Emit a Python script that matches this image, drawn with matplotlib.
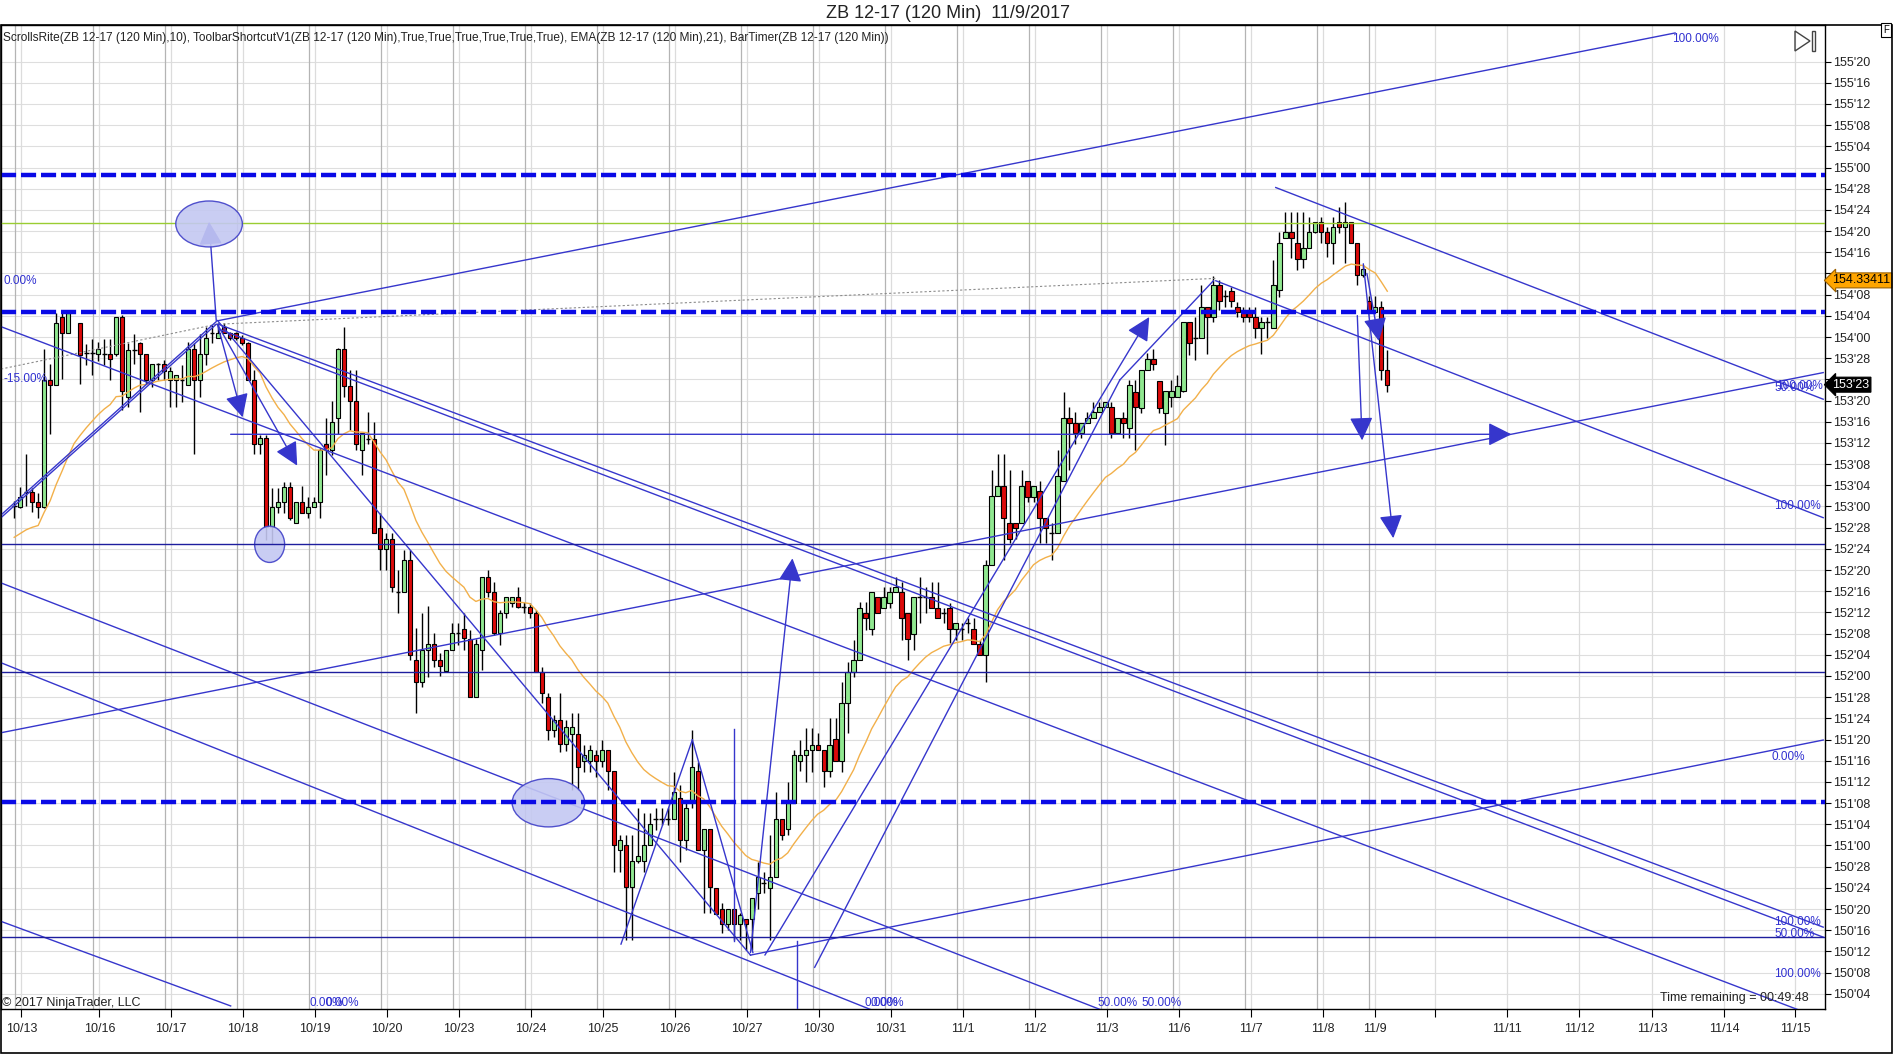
import numpy as np
import pandas as pd
import matplotlib.pyplot as plt
from matplotlib.patches import Rectangle, Ellipse, Polygon
from matplotlib.transforms import blended_transform_factory

nan = np.nan

# ZB 12-17, 120 min bars (index 0 = first bar on the chart)
opens = [
    153.000, 152.995, 153.087, 153.087, 153.024, 152.995, 153.746, 153.714, 154.120, 154.021,
    nan, 154.084, 153.903, 153.903, 153.900, 153.900, 153.900, 153.900, 154.116, 153.648,
    153.923, 153.963, 153.900, 153.746, 153.838, 153.838, 153.746, 153.746, 153.746, 153.716,
    153.927, 153.746, 153.897, 154.021, 153.992, 154.057, 154.021, 154.021, 153.992, 153.963,
    153.746, 153.368, 153.402, 152.880, 152.995, 153.024, 153.117, 152.900, 153.024, 152.963,
    152.995, 153.024, 153.368, 153.333, 153.524, 153.927, 153.713, 153.622, 153.333, 153.400,
    153.400, 152.871, 152.747, 152.806, 152.493, 152.493, 152.684, 152.094, 151.966, 152.153,
    152.187, 152.094, 152.029, 152.153, 152.251, 152.275, 152.216, 151.878, 152.153, 152.586,
    152.497, 152.251, 152.370, 152.428, 152.464, 152.409, 152.405, 152.370, 152.025, 151.874,
    151.680, 151.740, 151.600, 151.660, 151.657, 151.498, 151.498, 151.534, 151.498, 151.563,
    151.439, 150.973, 151.003, 150.757, 150.908, 150.908, 151.003, 151.154, 151.154, 151.154,
    151.154, 151.278, 151.032, 151.268, 151.439, 150.973, 151.095, 150.751, 150.623, 150.537,
    150.623, 150.537, 150.564, 150.564, 150.717, 150.780, 150.751, 150.812, 151.154, 151.095,
    151.248, 151.498, 151.534, 151.563, 151.593, 151.563, 151.439, 151.626, 151.498, 151.838,
    152.025, 152.094, 152.369, 152.275, 152.464, 152.403, 152.433, 152.494, 152.494, 152.369,
    152.246, 152.464, 152.464, 152.464, 152.403, 152.369, 152.403, 152.275, 152.275, 152.310,
    152.275, 152.187, 152.122, 152.655, 153.062, 153.121, 152.900, 152.900, 152.900, 153.152,
    153.058, 153.089, 152.930, 152.841, 152.841, 153.152, 153.524, 153.494, 153.431, 153.494,
    153.524, 153.555, 153.585, 153.585, 153.431, 153.524, 153.461, 153.677, 153.583, 153.805,
    153.870, 153.742, 153.553, 153.648, 153.648, 153.681, 154.086, 153.992, 153.992, 154.179,
    154.116, 154.307, 154.242, 154.273, 154.179, 154.149, 154.149, 154.116, 154.055, 154.086,
    154.055, 154.277, 154.582, 154.617, 154.552, 154.458, 154.523, 154.617, 154.676, 154.617,
    154.552, 154.676, 154.647, 154.676, 154.552, 154.366, 154.212, 154.149, 154.179, 153.805,
]
highs = [
    153.030, 153.117, 153.310, 153.107, 153.077, 153.927, 153.840, 154.140, 154.140, 154.160,
    nan, 154.084, 153.960, 153.990, 153.970, 153.990, 153.990, 154.116, 154.130, 153.963,
    154.020, 153.970, 153.900, 153.840, 153.845, 153.864, 153.825, 153.774, 153.835, 153.970,
    153.963, 154.020, 154.060, 154.070, 154.080, 154.080, 154.031, 154.031, 154.012, 153.972,
    153.805, 153.422, 153.422, 153.107, 153.107, 153.146, 153.146, 153.024, 153.120, 153.057,
    153.057, 153.343, 153.524, 153.624, 153.933, 154.060, 153.805, 153.805, 153.431, 153.560,
    153.500, 152.963, 152.841, 152.841, 152.625, 152.743, 152.743, 152.281, 152.370, 152.410,
    152.251, 152.133, 152.153, 152.310, 152.310, 152.370, 152.271, 152.217, 152.586, 152.625,
    152.556, 152.390, 152.464, 152.464, 152.527, 152.438, 152.428, 152.390, 152.055, 151.900,
    151.770, 151.900, 151.740, 151.780, 151.780, 151.593, 151.593, 151.563, 151.622, 151.563,
    151.439, 151.062, 151.062, 151.062, 151.219, 151.190, 151.190, 151.219, 151.219, 151.219,
    151.435, 151.356, 151.268, 151.681, 151.494, 151.095, 151.095, 150.751, 150.658, 150.623,
    150.623, 150.600, 150.564, 150.688, 150.904, 150.845, 151.062, 151.313, 151.154, 151.376,
    151.563, 151.622, 151.691, 151.691, 151.661, 151.563, 151.750, 151.750, 151.966, 152.084,
    152.212, 152.438, 152.438, 152.494, 152.464, 152.527, 152.527, 152.586, 152.556, 152.369,
    152.464, 152.586, 152.527, 152.556, 152.556, 152.403, 152.433, 152.310, 152.310, 152.340,
    152.340, 152.212, 152.684, 153.215, 153.310, 153.310, 153.215, 152.900, 153.215, 153.152,
    153.121, 153.152, 152.930, 152.900, 153.333, 153.677, 153.585, 153.555, 153.494, 153.555,
    153.618, 153.618, 153.618, 153.618, 153.524, 153.555, 153.746, 153.746, 153.805, 153.903,
    153.927, 153.742, 153.681, 153.746, 153.775, 154.086, 154.086, 154.120, 154.307, 154.179,
    154.360, 154.336, 154.277, 154.297, 154.208, 154.179, 154.179, 154.179, 154.120, 154.120,
    154.454, 154.621, 154.739, 154.739, 154.739, 154.739, 154.710, 154.676, 154.710, 154.647,
    154.710, 154.769, 154.798, 154.676, 154.552, 154.425, 154.242, 154.242, 154.212, 153.923,
]
lows = [
    152.930, 152.990, 153.000, 152.970, 152.930, 152.990, 153.430, 153.714, 153.750, 154.021,
    nan, 153.720, 153.835, 153.776, 153.860, 153.835, 153.746, 153.890, 153.570, 153.589,
    153.840, 153.560, 153.720, 153.706, 153.746, 153.746, 153.589, 153.589, 153.618, 153.716,
    153.310, 153.648, 153.835, 153.963, 153.992, 154.021, 153.982, 153.982, 153.952, 153.746,
    153.310, 153.310, 152.800, 152.780, 152.960, 152.960, 152.920, 152.900, 152.963, 152.930,
    152.995, 152.930, 153.186, 153.303, 153.430, 153.648, 153.450, 153.333, 153.186, 153.370,
    152.841, 152.625, 152.625, 152.497, 152.370, 152.493, 152.094, 151.780, 151.937, 151.996,
    152.055, 152.000, 152.029, 152.153, 152.183, 152.153, 151.878, 151.878, 152.035, 152.468,
    152.241, 152.183, 152.340, 152.409, 152.400, 152.370, 152.340, 152.025, 151.838, 151.620,
    151.640, 151.550, 151.560, 151.330, 151.327, 151.435, 151.435, 151.406, 151.465, 151.327,
    150.845, 150.845, 150.442, 150.442, 150.894, 150.845, 151.003, 151.091, 151.120, 151.120,
    151.154, 150.904, 150.973, 151.219, 150.973, 150.600, 150.600, 150.596, 150.482, 150.501,
    150.442, 150.442, 150.383, 150.383, 150.623, 150.717, 150.442, 150.812, 151.032, 151.062,
    151.248, 151.439, 151.376, 151.435, 151.563, 151.347, 151.406, 151.498, 151.435, 151.661,
    151.996, 152.094, 152.271, 152.242, 152.369, 152.403, 152.403, 152.494, 152.212, 152.094,
    152.153, 152.310, 152.369, 152.403, 152.340, 152.310, 152.193, 152.212, 152.212, 152.251,
    152.187, 152.122, 151.966, 152.655, 153.062, 152.684, 152.782, 152.806, 152.900, 153.029,
    153.029, 152.782, 152.782, 152.684, 152.841, 153.152, 153.215, 153.369, 153.402, 153.494,
    153.524, 153.555, 153.585, 153.402, 153.431, 153.402, 153.402, 153.333, 153.553, 153.805,
    153.805, 153.553, 153.363, 153.589, 153.648, 153.677, 153.894, 153.864, 153.992, 153.898,
    154.090, 154.159, 154.179, 154.179, 154.119, 154.090, 154.090, 153.992, 153.898, 153.992,
    154.055, 154.238, 154.582, 154.464, 154.395, 154.405, 154.523, 154.611, 154.552, 154.474,
    154.430, 154.611, 154.434, 154.552, 154.307, 154.356, 154.149, 154.149, 153.746, 153.677,
]
closes = [
    153.000, 153.058, 153.087, 153.024, 152.995, 153.746, 153.714, 154.084, 154.021, 154.143,
    nan, 153.894, 153.903, 153.903, 153.927, 153.900, 153.868, 154.116, 153.683, 153.923,
    153.923, 153.900, 153.746, 153.840, 153.838, 153.800, 153.800, 153.774, 153.746, 153.927,
    153.746, 153.897, 153.992, 154.021, 154.021, 154.021, 153.992, 153.992, 153.963, 153.746,
    153.368, 153.402, 152.880, 152.995, 153.024, 153.117, 152.930, 153.024, 152.963, 152.995,
    153.024, 153.333, 153.333, 153.498, 153.927, 153.713, 153.622, 153.366, 153.431, 153.400,
    152.841, 152.747, 152.806, 152.527, 152.493, 152.684, 152.124, 151.966, 152.153, 152.187,
    152.094, 152.059, 152.153, 152.251, 152.251, 152.222, 151.878, 152.187, 152.586, 152.497,
    152.251, 152.370, 152.464, 152.464, 152.409, 152.409, 152.370, 152.025, 151.900, 151.680,
    151.740, 151.600, 151.700, 151.700, 151.465, 151.534, 151.563, 151.498, 151.563, 151.439,
    151.003, 151.032, 150.757, 150.908, 150.938, 151.003, 151.125, 151.154, 151.154, 151.154,
    151.313, 151.032, 151.219, 151.465, 150.973, 151.095, 150.757, 150.596, 150.537, 150.623,
    150.537, 150.590, 150.537, 150.688, 150.812, 150.780, 150.812, 151.154, 151.062, 151.248,
    151.534, 151.534, 151.563, 151.593, 151.563, 151.439, 151.593, 151.498, 151.838, 152.025,
    152.094, 152.403, 152.340, 152.494, 152.369, 152.464, 152.494, 152.527, 152.340, 152.216,
    152.464, 152.464, 152.464, 152.403, 152.340, 152.369, 152.275, 152.310, 152.275, 152.310,
    152.187, 152.122, 152.655, 153.062, 153.121, 152.930, 152.806, 152.871, 153.121, 153.058,
    153.121, 152.930, 152.871, 152.841, 153.182, 153.524, 153.494, 153.431, 153.494, 153.524,
    153.555, 153.585, 153.618, 153.431, 153.524, 153.494, 153.717, 153.585, 153.805, 153.870,
    153.838, 153.583, 153.681, 153.681, 153.713, 154.086, 153.962, 153.992, 154.179, 154.116,
    154.307, 154.212, 154.242, 154.212, 154.149, 154.116, 154.116, 154.055, 154.086, 154.086,
    154.307, 154.552, 154.617, 154.582, 154.458, 154.523, 154.617, 154.676, 154.617, 154.552,
    154.647, 154.647, 154.676, 154.552, 154.366, 154.399, 154.149, 154.179, 153.805, 153.719,
]
ema_seed = 152.80          # EMA value just before the first bar
ema_period = 21

# x axis: tick positions in bar index and their labels
date_ticks = [1.2, 14.2, 26.2, 38.2, 50.2, 62.2, 74.2, 86.2, 98.2, 110.2, 122.2, 134.2,
              146.2, 158.2, 170.2, 182.2, 194.2, 206.2, 218.2, 227.0]
date_labels = ['10/13', '10/16', '10/17', '10/18', '10/19', '10/20', '10/23', '10/24', '10/25',
               '10/26', '10/27', '10/30', '10/31', '11/1', '11/2', '11/3', '11/6', '11/7',
               '11/8', '11/9']
future_ticks = [237.0, 249.0, 261.0, 273.2, 285.2, 297.0]
future_labels = ['', '11/11', '11/12', '11/13', '11/14', '11/15']

# drawing objects (bar index, price)
dash_levels = [154.953, 154.147, 151.258]
solid_levels = [152.777, 152.021, 150.459]
green_level = 154.675
trend_lines = [
    ((34.1, 154.097), (277.0, 155.794)),
    ((-2.2, 152.934), (33.7, 154.075)),
    ((-2.2, 152.950), (33.7, 154.091)),
    ((-2.2, 151.665), (301.7, 153.790)),
    ((122.8, 150.353), (301.7, 151.622)),
    ((-2.2, 154.061), (297.5, 150.031)),
    ((34.1, 154.075), (301.7, 150.518)),
    ((34.1, 154.047), (301.7, 150.459)),
    ((33.9, 154.097), (122.8, 150.353)),
    ((210.4, 154.882), (301.7, 153.633)),
    ((200.4, 154.332), (301.7, 152.934)),
    ((-2.2, 150.552), (36.1, 150.053)),
    ((-2.2, 152.549), (181.2, 150.031)),
    ((-2.2, 152.078), (142.9, 150.031)),
    ((101.2, 150.418), (113.1, 151.623)),
    ((113.1, 151.623), (123.2, 150.368)),
    ((120.0, 151.686), (120.0, 150.438)),
    ((130.6, 150.438), (130.6, 150.031)),
    ((133.5, 150.281), (184.4, 153.747)),
    ((184.4, 153.747), (200.0, 154.332)),
]
arrow_lines = [
    ((33.7, 154.097), (32.5, 154.68)),
    ((33.9, 154.075), (38.1, 153.526)),
    ((33.9, 154.075), (47.2, 153.241)),
    ((36.1, 153.426), (249.7, 153.426)),
    ((122.8, 150.368), (129.8, 152.694)),
    ((125.2, 150.353), (189.3, 154.118)),
    ((224.0, 154.126), (224.8, 153.39)),
    ((225.0, 154.432), (230.0, 152.813)),
    ((225.6, 154.375), (227.6, 153.976)),
]
ellipses = [(32.5, 154.667, 11.1, 0.271), (42.6, 152.777, 5.0, 0.214), (89.1, 151.252, 12.1, 0.285)]
pct_labels = [
    ('100.00%', 276.5, 155.76), ('0.00%', -1.7, 154.33), ('-15.00%', -1.7, 153.75),
    ('50.00%', 293.5, 153.70), ('100.00%', 293.8, 153.71), ('100.00%', 293.5, 153.00),
    ('0.00%', 293.0, 151.52), ('100.00%', 293.5, 150.55), ('50.00%', 293.5, 150.48),
    ('100.00%', 293.5, 150.24), ('0.00%', 49.3, 150.07), ('0.00%', 52.0, 150.07),
    ('0.00%', 141.8, 150.07), ('0.00%', 142.8, 150.07), ('50.00%', 180.7, 150.07),
    ('50.00%', 188.0, 150.07),
]
ema_marker = 154.33411
last_price = 153.71875

plt.rcParams['font.family'] = ['Liberation Sans Narrow', 'Liberation Sans', 'DejaVu Sans']

W, H = 1896, 1055
fig = plt.figure(figsize=(W / 100, H / 100), dpi=100)


def fx(px):
    return px / W


def fy(py):
    return 1 - py / H


ax = fig.add_axes([fx(1), fy(1009), fx(1825) - fx(1), fy(25) - fy(1009)])
ax.set_xlim(-2.2, 302)
ax.set_ylim(150.035, 155.841)


def fmt32(p):
    whole = int(np.floor(p + 1e-9))
    n = int(round((p - whole) * 32))
    return f"{whole}'{n:02d}"


yt = np.arange(150.125, 155.7, 0.125)
# the tick labels that sit under the two price markers are hidden
hidden = [fmt32(round(ema_marker * 8) / 8), fmt32(round(last_price * 8) / 8)]
ax.set_yticks(yt)
ax.set_yticklabels(['' if fmt32(v) in hidden else fmt32(v) for v in yt])
ax.yaxis.tick_right()
ax.tick_params(axis='y', direction='out', length=4, width=0.8, labelsize=9, pad=2,
               labelcolor='#222222')
ax.set_xticks(date_ticks + future_ticks)
ax.set_xticklabels(date_labels + future_labels)
ax.tick_params(axis='x', direction='out', length=6, width=0.8, labelsize=9, pad=4,
               labelcolor='#222222')
for s in ax.spines.values():
    s.set_linewidth(1.0)
    s.set_color('black')

# grid
for v in yt:
    ax.axhline(v, color='#dedede', lw=0.8, zorder=0)
for t in date_ticks + future_ticks:
    ax.axvline(t, color='#dcdcdc', lw=0.9, zorder=0)
for t in date_ticks:
    ax.axvline(t - 1, color='#b4b4b4', lw=0.9, zorder=0)

# candles
up_col, dn_col = '#90e890', '#dc0a0a'
for i in range(len(closes)):
    o, h, l, c = opens[i], highs[i], lows[i], closes[i]
    if np.isnan(o):
        continue
    ax.vlines(i, l, h, color='black', lw=1.0, zorder=2)
    if abs(c - o) < 0.006:
        ax.hlines(c, i - 0.4, i + 0.4, color='black', lw=1.0, zorder=2)
    else:
        ax.add_patch(Rectangle((i - 0.36, min(o, c)), 0.72, abs(c - o),
                               facecolor=up_col if c > o else dn_col,
                               edgecolor='black', lw=0.8, zorder=2))

# EMA(21)
cl = pd.Series(closes).ffill().to_numpy()
alpha = 2 / (ema_period + 1)
ema = []
prev = ema_seed
for c in cl:
    prev = prev + alpha * (c - prev)
    ema.append(prev)
ax.plot(range(len(ema)), ema, color='#f2b04a', lw=1.0, zorder=2.5)

# drawings
line_col = '#3636cc'
for lv in dash_levels:
    ax.axhline(lv, color='#0a0ae6', lw=3.2, dashes=(3.4, 1.1), zorder=4)
for lv in solid_levels:
    ax.axhline(lv, color='#1e1e9e', lw=1.0, zorder=4)
ax.axhline(green_level, color='#9acd32', lw=1.0, zorder=3)

ax.plot([-2.2, 33.7, 200.4], [153.811, 154.075, 154.346], color='#8c8c8c', lw=0.8,
        dashes=(2, 2), zorder=3)
for (x0, y0), (x1, y1) in trend_lines:
    ax.plot([x0, x1], [y0, y1], color=line_col, lw=1.0, zorder=3)
for (x0, y0), (x1, y1) in arrow_lines:
    ax.annotate('', xy=(x1, y1), xytext=(x0, y0),
                arrowprops=dict(arrowstyle='-|>,head_length=0.8,head_width=0.4',
                                color=line_col, lw=1.0, mutation_scale=18,
                                shrinkA=0, shrinkB=0), zorder=3)
for cx, cy, w, h in ellipses:
    ax.add_patch(Ellipse((cx, cy), w, h, facecolor='#c4c8f2', edgecolor='#4040c8',
                         lw=1.0, alpha=0.9, zorder=3))

for txt, x, y in pct_labels:
    ax.text(x, y, txt, color='#3030d0', fontsize=8.5, va='center', ha='left', zorder=5)

# price markers on the axis
bt = blended_transform_factory(ax.transAxes, ax.transData)
ax.text(1.004, ema_marker, f'{ema_marker:.5f}', transform=bt, fontsize=9, va='center',
        ha='left', color='black', zorder=6, clip_on=False,
        bbox=dict(boxstyle='larrow,pad=0.12', fc='#ffa500', ec='#9a6000', lw=0.8))
ax.text(1.004, last_price, fmt32(last_price), transform=bt, fontsize=9, va='center',
        ha='left', color='white', zorder=6, clip_on=False,
        bbox=dict(boxstyle='larrow,pad=0.12', fc='black', ec='black', lw=0.8))

# texts and frame
fig.text(0.5, fy(13), 'ZB 12-17 (120 Min)  11/9/2017', ha='center', va='center',
         fontsize=13, color='#222222')
fig.text(fx(3), fy(38), 'ScrollsRite(ZB 12-17 (120 Min),10), ToolbarShortcutV1(ZB 12-17 (120 Min),'
         'True,True,True,True,True,True), EMA(ZB 12-17 (120 Min),21), BarTimer(ZB 12-17 (120 Min))',
         ha='left', va='center', fontsize=8.6, color='#222222')
fig.text(fx(2), fy(1003), '\u00a9 2017 NinjaTrader, LLC', ha='left', va='center',
         fontsize=9, color='#222222')
fig.text(fx(1809), fy(998), 'Time remaining = 00:49:48', ha='right', va='center',
         fontsize=9, color='#222222')
fig.text(fx(1886), fy(30), 'F', ha='center', va='center', fontsize=7,
         bbox=dict(boxstyle='square,pad=0.2', fc='white', ec='black', lw=0.8))
fig.add_artist(Polygon([[fx(1795), fy(31)], [fx(1795), fy(51)], [fx(1810), fy(41)]],
                       closed=True, fill=False, ec='#444444', lw=1.0,
                       transform=fig.transFigure))
fig.add_artist(Rectangle((fx(1812), fy(51)), fx(3), fy(31) - fy(51), fill=False,
                         ec='#444444', lw=1.0, transform=fig.transFigure))
fig.add_artist(Rectangle((fx(0.5), fy(1053)), fx(1891), fy(25) - fy(1053), fill=False,
                         ec='black', lw=1.2, transform=fig.transFigure))

fig.savefig('out.png', dpi=100)
